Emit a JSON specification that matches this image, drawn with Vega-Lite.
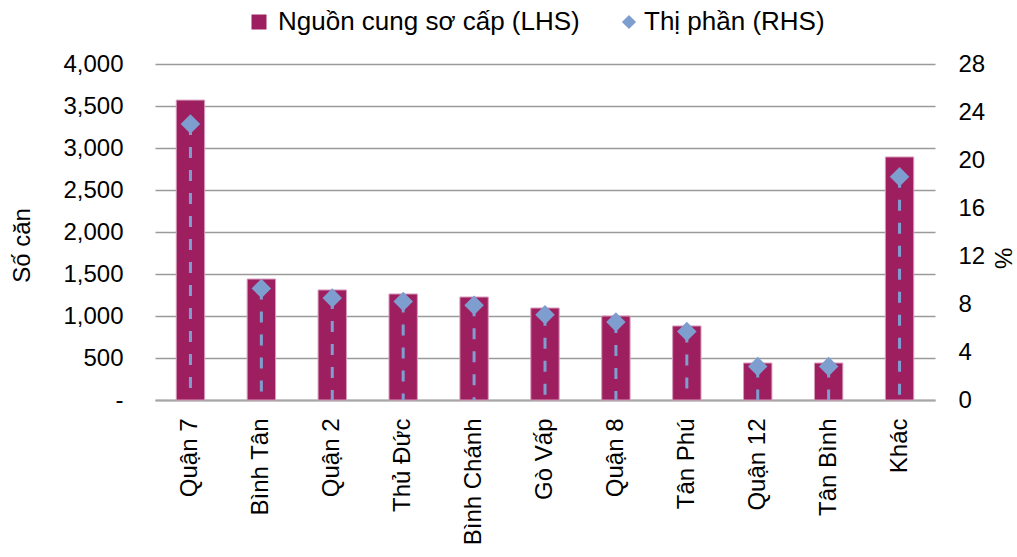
{
  "$schema": "https://vega.github.io/schema/vega-lite/v6.json",
  "width": 780,
  "height": 336,
  "autosize": {"type": "none"},
  "padding": {"left": 155, "top": 64, "right": 82, "bottom": 157},
  "background": "white",
  "config": {
    "view": {"stroke": null},
    "font": "Liberation Sans",
    "axis": {"labelFont": "Liberation Sans", "titleFont": "Liberation Sans", "labelColor": "#000", "titleColor": "#000", "labelFontSize": 24, "titleFontSize": 24, "titleFontWeight": "normal", "ticks": false},
    "legend": {"labelFont": "Liberation Sans", "labelFontSize": 26, "labelColor": "#000", "labelLimit": 500}
  },
  "data": {
    "values": [
      {"district": "Quận 7", "supply": 3570, "share": 23.0},
      {"district": "Bình Tân", "supply": 1440, "share": 9.3},
      {"district": "Quận 2", "supply": 1310, "share": 8.5},
      {"district": "Thủ Đức", "supply": 1262, "share": 8.2},
      {"district": "Bình Chánh", "supply": 1226, "share": 7.9},
      {"district": "Gò Vấp", "supply": 1095, "share": 7.1},
      {"district": "Quận 8", "supply": 1000, "share": 6.5},
      {"district": "Tân Phú", "supply": 881, "share": 5.7},
      {"district": "Quận 12", "supply": 440, "share": 2.8},
      {"district": "Tân Bình", "supply": 440, "share": 2.8},
      {"district": "Khác", "supply": 2893, "share": 18.6}
    ]
  },
  "encoding": {
    "x": {
      "field": "district",
      "type": "nominal",
      "sort": null,
      "scale": {"paddingInner": 0.6, "paddingOuter": 0.3},
      "axis": {"title": null, "labelAngle": -90, "labelAlign": "right", "labelBaseline": "middle", "labelPadding": 18, "domainColor": "#A6A6A6", "domainWidth": 2}
    }
  },
  "layer": [
    {
      "mark": {"type": "bar", "stroke": "#D69BBB", "strokeWidth": 1},
      "encoding": {
        "y": {
          "field": "supply",
          "type": "quantitative",
          "scale": {"domain": [0, 4000]},
          "axis": {"orient": "left", "title": "Số căn", "values": [0, 500, 1000, 1500, 2000, 2500, 3000, 3500, 4000], "labelExpr": "datum.value == 0 ? '-' : format(datum.value, ',')", "labelPadding": 32, "domain": false, "grid": true, "gridColor": "#9A9A9A", "gridWidth": 1.3, "titleX": -133, "titleY": 181, "titleAngle": -90, "titleAlign": "center", "titleBaseline": "middle"}
        },
        "color": {
          "datum": "Nguồn cung sơ cấp (LHS)",
          "type": "nominal",
          "scale": {"domain": ["Nguồn cung sơ cấp (LHS)"], "range": ["#9E1F5F"]},
          "legend": {
            "title": null,
            "orient": "none",
            "direction": "horizontal",
            "legendX": 91,
            "legendY": -55,
            "labelOffset": 6,
            "symbolSize": 225,
            "symbolType": "square",
            "symbolStrokeWidth": 0,
            "symbolOpacity": 1
          }
        }
      }
    },
    {
      "encoding": {
        "y": {
          "field": "share",
          "type": "quantitative",
          "scale": {"domain": [0, 28]},
          "axis": {"orient": "right", "title": "%", "values": [0, 4, 8, 12, 16, 20, 24, 28], "labelPadding": 23, "domain": false, "grid": false, "titleX": 66, "titleY": 194, "titleAngle": 90, "titleAlign": "center", "titleBaseline": "middle"}
        }
      },
      "layer": [
        {
          "mark": {"type": "rule", "color": "#7F9ED0", "strokeWidth": 3, "strokeDash": [11, 12]},
          "encoding": {"y2": {"datum": 0}}
        },
        {
          "mark": {"type": "point", "filled": true, "opacity": 1, "size": 380, "color": "#7F9ED0"},
          "encoding": {
            "shape": {
              "datum": "Thị phần (RHS)",
              "type": "nominal",
              "scale": {"domain": ["Thị phần (RHS)"], "range": ["diamond"]},
              "legend": {
                "title": null,
                "orient": "none",
                "direction": "horizontal",
                "legendX": 461,
                "legendY": -55,
                "labelOffset": 2,
                "symbolSize": 200,
                "symbolFillColor": "#7F9ED0",
                "symbolStrokeWidth": 0,
                "symbolOpacity": 1
              }
            }
          }
        }
      ]
    }
  ],
  "resolve": {"scale": {"y": "independent"}}
}
